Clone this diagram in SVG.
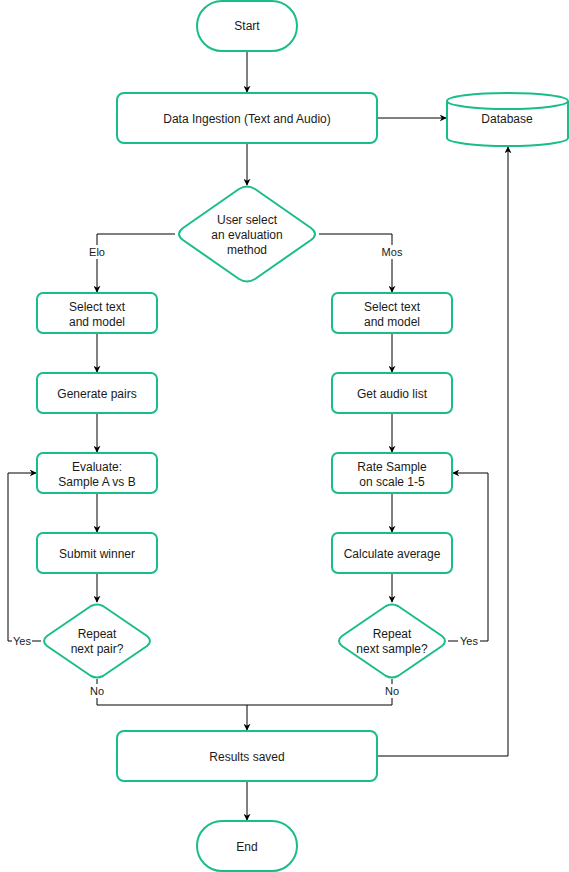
<svg xmlns="http://www.w3.org/2000/svg" width="569" height="872" viewBox="0 0 569 872">
<style>
.n{fill:#ffffff;stroke:#19bd8c;stroke-width:2}
.t{font-family:"Liberation Sans",Arial,sans-serif;font-size:12px;fill:#1a1a1a;text-anchor:middle;dominant-baseline:central}
.l{font-family:"Liberation Sans",Arial,sans-serif;font-size:11px;fill:#1a1a1a;text-anchor:middle;dominant-baseline:central}
.c{fill:none;stroke:#000000;stroke-width:1}
.lb{fill:#ffffff}
</style>
<defs>
<marker id="a" viewBox="0 0 10 10" refX="9" refY="5" markerWidth="7" markerHeight="7" markerUnits="userSpaceOnUse" orient="auto">
<path d="M0,0 L10,5 L0,10 L3,5 Z" fill="#000000"/>
</marker>
</defs>
<rect width="569" height="872" fill="#ffffff"/>
<g id="connectors">
<path class="c" d="M247,51 V92" marker-end="url(#a)"/>
<path class="c" d="M377,118 H446" marker-end="url(#a)"/>
<path class="c" d="M247,143 V185" marker-end="url(#a)"/>
<path class="c" d="M175,234 H97 V292" marker-end="url(#a)"/>
<path class="c" d="M319,234 H392 V292" marker-end="url(#a)"/>
<path class="c" d="M97,333 V372" marker-end="url(#a)"/>
<path class="c" d="M97,413 V452" marker-end="url(#a)"/>
<path class="c" d="M97,493 V532" marker-end="url(#a)"/>
<path class="c" d="M97,573 V602" marker-end="url(#a)"/>
<path class="c" d="M392,333 V372" marker-end="url(#a)"/>
<path class="c" d="M392,413 V452" marker-end="url(#a)"/>
<path class="c" d="M392,493 V532" marker-end="url(#a)"/>
<path class="c" d="M392,573 V602" marker-end="url(#a)"/>
<path class="c" d="M41,641 H8 V473 H36" marker-end="url(#a)"/>
<path class="c" d="M448,641 H488 V473 H453" marker-end="url(#a)"/>
<path class="c" d="M97,679 V705 H392 V679"/>
<path class="c" d="M247,705 V730" marker-end="url(#a)"/>
<path class="c" d="M377,756 H508 V147" marker-end="url(#a)"/>
<path class="c" d="M247,781 V820" marker-end="url(#a)"/>
<rect class="lb" x="88" y="245" width="18" height="14"/>
<text class="l" x="97" y="252">Elo</text>
<rect class="lb" x="380" y="245" width="24" height="14"/>
<text class="l" x="392" y="252">Mos</text>
<rect class="lb" x="12" y="634" width="20" height="14"/>
<text class="l" x="22" y="641">Yes</text>
<rect class="lb" x="458" y="634" width="22" height="14"/>
<text class="l" x="469" y="641">Yes</text>
<rect class="lb" x="89" y="684" width="16" height="14"/>
<text class="l" x="97" y="691">No</text>
<rect class="lb" x="384" y="684" width="16" height="14"/>
<text class="l" x="392" y="691">No</text>
</g>
<g id="start"><rect class="n" x="197" y="1" width="100" height="50" rx="25"/><text class="t" x="247" y="26">Start</text></g>
<g id="ingest"><rect class="n" x="117" y="93" width="260" height="50" rx="7"/><text class="t" x="247" y="119">Data Ingestion (Text and Audio)</text></g>
<g id="database">
<path class="n" d="M447,101 A60.5,8 0 0 1 568,101 V138 A60.5,8 0 0 1 447,138 Z"/>
<path class="n" d="M447,101 A60.5,8 0 0 0 568,101" fill="none"/>
<text class="t" x="507" y="119">Database</text>
</g>
<g id="method">
<path class="n" d="M239,189 Q247,184 255,189 L311,228 Q319,234 311,240 L255,279 Q247,284 239,279 L183,240 Q175,234 183,228 Z"/>
<text class="t" x="247" y="220">User select</text><text class="t" x="247" y="235">an evaluation</text><text class="t" x="247" y="250">method</text>
</g>
<g id="elo-select"><rect class="n" x="37" y="293" width="120" height="40" rx="6"/><text class="t" x="97" y="307">Select text</text><text class="t" x="97" y="322">and model</text></g>
<g id="elo-pairs"><rect class="n" x="37" y="373" width="120" height="40" rx="6"/><text class="t" x="97" y="394">Generate pairs</text></g>
<g id="elo-eval"><rect class="n" x="37" y="453" width="120" height="40" rx="6"/><text class="t" x="97" y="467">Evaluate:</text><text class="t" x="97" y="482">Sample A vs B</text></g>
<g id="elo-submit"><rect class="n" x="37" y="533" width="120" height="40" rx="6"/><text class="t" x="97" y="554">Submit winner</text></g>
<g id="elo-repeat">
<path class="n" d="M91,606 Q97,603 103,606 L147,636 Q153,641 147,646 L103,676 Q97,679 91,676 L47,646 Q41,641 47,636 Z"/>
<text class="t" x="97" y="634">Repeat</text><text class="t" x="97" y="649">next pair?</text>
</g>
<g id="mos-select"><rect class="n" x="332" y="293" width="120" height="40" rx="6"/><text class="t" x="392" y="307">Select text</text><text class="t" x="392" y="322">and model</text></g>
<g id="mos-audio"><rect class="n" x="332" y="373" width="120" height="40" rx="6"/><text class="t" x="392" y="394">Get audio list</text></g>
<g id="mos-rate"><rect class="n" x="332" y="453" width="120" height="40" rx="6"/><text class="t" x="392" y="467">Rate Sample</text><text class="t" x="392" y="482">on scale 1-5</text></g>
<g id="mos-avg"><rect class="n" x="332" y="533" width="120" height="40" rx="6"/><text class="t" x="392" y="554">Calculate average</text></g>
<g id="mos-repeat">
<path class="n" d="M386,606 Q392,603 398,606 L442,636 Q448,641 442,646 L398,676 Q392,679 386,676 L342,646 Q336,641 342,636 Z"/>
<text class="t" x="392" y="634">Repeat</text><text class="t" x="392" y="649">next sample?</text>
</g>
<g id="results"><rect class="n" x="117" y="731" width="260" height="50" rx="7"/><text class="t" x="247" y="757">Results saved</text></g>
<g id="end"><rect class="n" x="197" y="821" width="100" height="50" rx="25"/><text class="t" x="247" y="847">End</text></g>
</svg>
